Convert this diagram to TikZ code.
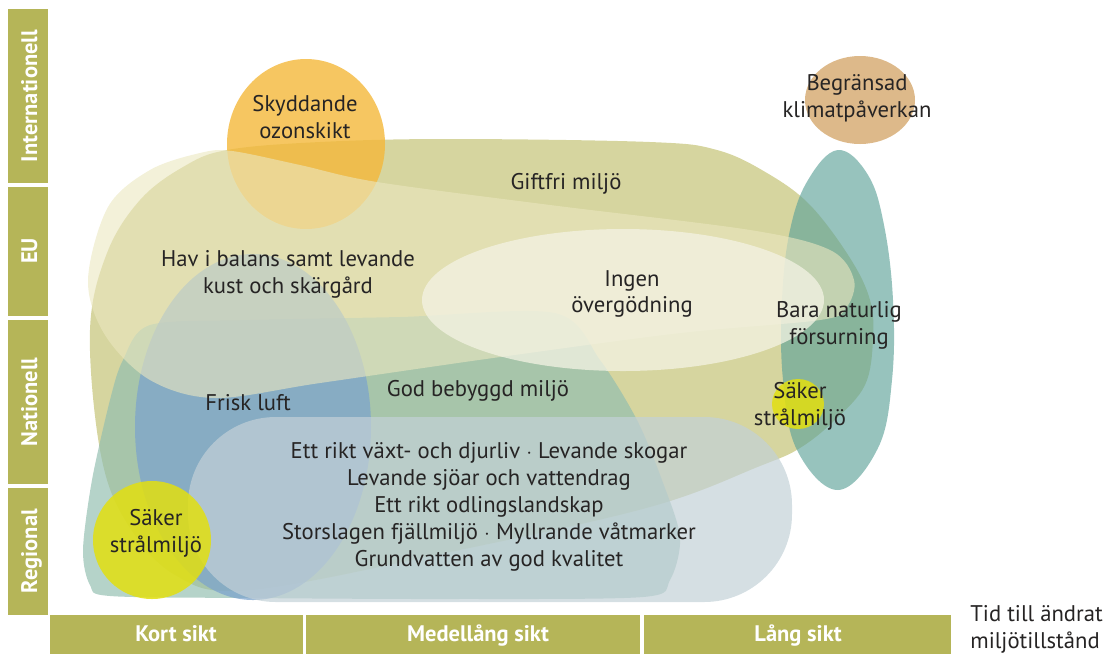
\documentclass[tikz,border=0pt]{standalone}
\usepackage{fontspec}
\setmainfont{PT Sans}
\definecolor{cGift}{HTML}{D6D59F}
\definecolor{cTeal}{HTML}{5FA39A}
\definecolor{cOrange}{HTML}{F4B83A}
\definecolor{cTan}{HTML}{DDB98A}
\definecolor{cGreen}{HTML}{92BEB0}
\definecolor{cBlue}{HTML}{7DA4CC}
\definecolor{cHav}{HTML}{EBE7C0}
\definecolor{cIngen}{HTML}{F4F3E4}
\definecolor{cRect}{HTML}{C3D1D7}
\definecolor{cYellow}{HTML}{E2DF10}
\definecolor{cBar}{HTML}{B5B558}
\definecolor{cText}{HTML}{262424}
\begin{document}
\begin{tikzpicture}[x=0.02cm,y=-0.02cm,
  lbl/.style={font=\fontsize{12.9}{15.3}\selectfont, text=cText, align=center, inner sep=0pt},
  barbox/.style={fill=cBar, draw=none},
  bartxt/.style={font=\fontsize{12.8}{14}\selectfont\bfseries, text=white, inner sep=0pt, anchor=base}]
\useasboundingbox (0,0) rectangle (1106,654);

% Giftfri miljö (olive blob)
\fill[cGift] plot[smooth cycle, tension=0.6] coordinates {
 (90,330) (107,253) (140,200) (183,167) (227,150) (320,142) (450,139) (650,142)
 (717,150) (767,173) (810,205) (850,258) (870,300) (873,340) (865,385) (835,420)
 (800,448) (760,466) (650,507) (450,552) (250,590) (175,575) (125,520) (100,450)};

% Bara naturlig försurning (teal)
\fill[cTeal, opacity=0.65] plot[smooth cycle, tension=0.65] coordinates {
 (838,150) (868,175) (884,225) (893,300) (892,380) (878,448) (838,490)
 (797,450) (783,380) (782,300) (790,230) (808,180)};

% Skyddande ozonskikt
\fill[cOrange, opacity=0.8] (306,144) ellipse [x radius=79, y radius=85];

% God bebyggd miljö (green)
\fill[cGreen, opacity=0.68] plot[smooth cycle, tension=0.5] coordinates {
 (150,325) (250,320) (400,317) (555,313) (600,360) (637,420) (662,480) (680,537)
 (670,580) (643,597) (450,599) (250,598) (110,596) (90,585) (83,550) (92,480) (110,400) (123,360)};

% Frisk luft (blue)
\fill[cBlue, opacity=0.75] (253,427) ellipse [x radius=118, y radius=173];

% Hav i balans samt levande kust och skärgård (cream)
\fill[cHav, opacity=0.6] plot[smooth cycle, tension=0.55] coordinates {
 (88,280) (108,207) (150,170) (200,153) (232,151) (300,165) (377,182) (550,205)
 (750,230) (830,250) (854,280) (846,308) (820,320) (680,333) (500,357) (320,383)
 (215,398) (150,380) (105,335)};

% Ingen övergödning
\fill[cIngen, opacity=0.75] (623,300) ellipse [x radius=201, y radius=71];

% Ett rikt växt- ... (light blue-grey)
\fill[cRect, opacity=0.7, rounded corners=50pt] (188,417) rectangle (792,602);

% Säker strålmiljö circles
\fill[cYellow, opacity=0.85] (152,540) circle [radius=59];
\fill[cYellow, opacity=0.85] (798,404) ellipse [x radius=26, y radius=25];

% Begränsad klimatpåverkan
\fill[cTan] (860,100) ellipse [x radius=55, y radius=44];

% labels
\node[lbl] (ozon) at (305,117) {Skyddande\\ozonskikt};
\node[lbl] (klimat) at (857,98) {Begränsad\\klimatpåverkan};
\node[lbl] (gift) at (566,184) {Giftfri miljö};
\node[lbl] (hav) at (288,274) {Hav i balans samt levande\\kust och skärgård};
\node[lbl] (ingen) at (632,294) {Ingen\\övergödning};
\node[lbl] (bara) at (839,325) {Bara naturlig\\försurning};
\node[lbl] (saker2) at (800,406) {Säker\\strålmiljö};
\node[lbl] (frisk) at (248,403) {Frisk luft};
\node[lbl] (god) at (478,391) {God bebyggd miljö};
\node[lbl] (rikt) at (489,507) {Ett rikt växt- och djurliv $\cdot$ Levande skogar\\Levande sjöar och vattendrag\\Ett rikt odlingslandskap\\Storslagen fjällmiljö $\cdot$ Myllrande våtmarker\\Grundvatten av god kvalitet};
\node[lbl] (saker1) at (156,533) {Säker\\strålmiljö};

% axes bars
\fill[barbox] (8,9) rectangle (48,183);
\fill[barbox] (8,187) rectangle (48,316);
\fill[barbox] (8,320) rectangle (48,484);
\fill[barbox] (8,488) rectangle (48,615);
\fill[barbox] (50,615) rectangle (303,654);
\fill[barbox] (306,615) rectangle (640,654);
\fill[barbox] (644,615) rectangle (951,654);

\node[bartxt, rotate=90] (intl) at (37,96) {Internationell};
\node[bartxt, rotate=90] (eu) at (37,251) {EU};
\node[bartxt, rotate=90] (nat) at (37,402) {Nationell};
\node[bartxt, rotate=90] (reg) at (37,551) {Regional};
\node[bartxt] (kort) at (176,641) {Kort sikt};
\node[bartxt] (medel) at (478,641) {Medellång sikt};
\node[bartxt] (lang) at (798,641) {Lång sikt};

\node[lbl, align=left, anchor=west] (tid) at (970,629) {Tid till ändrat\\miljötillstånd};
\end{tikzpicture}
\end{document}
